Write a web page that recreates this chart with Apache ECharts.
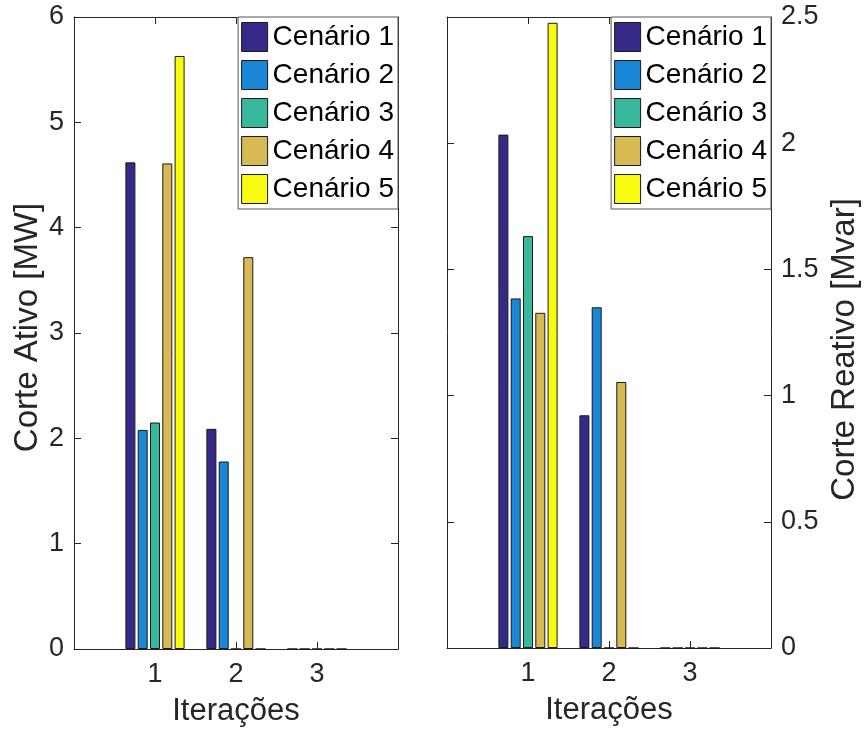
<!DOCTYPE html>
<html>
<head>
<meta charset="utf-8">
<script src="https://cdn.jsdelivr.net/npm/echarts@6/dist/echarts.min.js"></script>
<style>html,body{margin:0;padding:0;background:#fff}#c{width:865px;height:736px}</style>
</head>
<body>
<div id="c"></div>
<script>
// ---- data ----
const categories = ['0', '1', '2', '3', '4'];      // axis positions; 0 and 4 are the empty ends
const tickLabels = ['', '1', '2', '3', ''];
const scenarioNames = ['Cenário 1', 'Cenário 2', 'Cenário 3', 'Cenário 4', 'Cenário 5'];
const scenarioColors = ['#352A87', '#1A86D6', '#38B99E', '#D7BA54', '#F9FB0E'];
// Corte Ativo [MW] per scenario, iterations 1..3
const ativo1 = [4.62, 2.09, 0];
const ativo2 = [2.08, 1.78, 0];
const ativo3 = [2.15, 0, 0];
const ativo4 = [4.61, 3.72, 0];
const ativo5 = [5.63, 0, 0];
// Corte Reativo [Mvar] per scenario, iterations 1..3
const reativo1 = [2.034, 0.922, 0];
const reativo2 = [1.385, 1.35, 0];
const reativo3 = [1.632, 0, 0];
const reativo4 = [1.328, 1.054, 0];
const reativo5 = [2.477, 0, 0];

const ativo = [ativo1, ativo2, ativo3, ativo4, ativo5];
const reativo = [reativo1, reativo2, reativo3, reativo4, reativo5];

const FONT = '"Liberation Sans", Arial, Helvetica, sans-serif';
const AX = '#262626';

function pad(arr) { return [null].concat(arr).concat([null]); }

function xAxes(gridIndex) {
  return [
    {
      type: 'category', gridIndex: gridIndex, data: categories, boundaryGap: false, position: 'bottom',
      axisLine: { show: true, onZero: false, lineStyle: { color: AX, width: 1 } },
      axisTick: { show: true, inside: true, length: 7, interval: 0, lineStyle: { color: AX } },
      axisLabel: { show: true, interval: 0, margin: 12, color: AX, fontSize: 27, fontFamily: FONT,
        formatter: function (v, i) { return tickLabels[i]; } },
      splitLine: { show: false },
      name: 'Iterações', nameLocation: 'middle', nameGap: 47,
      nameTextStyle: { color: AX, fontSize: 31, fontFamily: FONT }
    },
    {
      type: 'category', gridIndex: gridIndex, data: categories, boundaryGap: false, position: 'top',
      axisLine: { show: true, onZero: false, lineStyle: { color: AX, width: 1 } },
      axisTick: { show: true, inside: true, length: 7, interval: 0, lineStyle: { color: AX } },
      axisLabel: { show: false }, splitLine: { show: false }
    }
  ];
}

function yAxes(gridIndex, max, interval, labelSide, name, nameGap, namePad) {
  const other = labelSide === 'left' ? 'right' : 'left';
  return [
    {
      type: 'value', gridIndex: gridIndex, min: 0, max: max, interval: interval, position: labelSide,
      axisLine: { show: true, onZero: false, lineStyle: { color: AX, width: 1 } },
      axisTick: { show: true, inside: true, length: 7, lineStyle: { color: AX } },
      axisLabel: { show: true, margin: 10, color: AX, fontSize: 27, fontFamily: FONT },
      splitLine: { show: false },
      name: name, nameLocation: 'middle', nameGap: nameGap, nameRotate: 90,
      nameTextStyle: { color: AX, fontSize: 33, fontFamily: FONT, padding: namePad }
    },
    {
      type: 'value', gridIndex: gridIndex, min: 0, max: max, interval: interval, position: other,
      axisLine: { show: true, onZero: false, lineStyle: { color: AX, width: 1 } },
      axisTick: { show: true, inside: true, length: 7, lineStyle: { color: AX } },
      axisLabel: { show: false }, splitLine: { show: false }
    }
  ];
}

const series = [];
for (let s = 0; s < 5; s++) {
  series.push({
    type: 'bar', name: scenarioNames[s], xAxisIndex: 0, yAxisIndex: 0,
    data: pad(ativo[s]), barWidth: 10, barGap: '23%',
    itemStyle: { color: scenarioColors[s], borderColor: '#1a1a1a', borderWidth: 1 },
    animation: false
  });
}
for (let s = 0; s < 5; s++) {
  series.push({
    type: 'bar', name: scenarioNames[s], xAxisIndex: 2, yAxisIndex: 2,
    data: pad(reativo[s]), barWidth: 10, barGap: '23%',
    itemStyle: { color: scenarioColors[s], borderColor: '#1a1a1a', borderWidth: 1 },
    animation: false
  });
}

function legend(right) {
  return {
    orient: 'vertical', right: right, top: 17,
    data: scenarioNames, icon: 'rect', itemWidth: 26, itemHeight: 29, itemGap: 8,
    padding: [5, 4, 5, 3],
    backgroundColor: '#fff', borderColor: '#555', borderWidth: 1, borderRadius: 0,
    itemStyle: { borderColor: '#1a1a1a', borderWidth: 1 },
    textStyle: { color: '#000', fontSize: 28, fontFamily: FONT, lineHeight: 29 },
    selectedMode: false
  };
}

const option = {
  backgroundColor: '#fff',
  animation: false,
  grid: [
    { left: 74, top: 17, width: 324, height: 632, containLabel: false },
    { left: 447, top: 17, width: 324, height: 631, containLabel: false }
  ],
  xAxis: xAxes(0).concat(xAxes(1)),
  yAxis: yAxes(0, 6, 1, 'left', 'Corte Ativo [MW]', 30, [0, 0, 0, 11])
    .concat(yAxes(1, 2.5, 0.5, 'right', 'Corte Reativo [Mvar]', 57, [0, 34, 0, 0])),
  legend: [legend(467), legend(94)],
  series: series
};

const chart = echarts.init(document.getElementById('c'), null, { renderer: 'canvas' });
chart.setOption(option);
</script>
</body>
</html>
